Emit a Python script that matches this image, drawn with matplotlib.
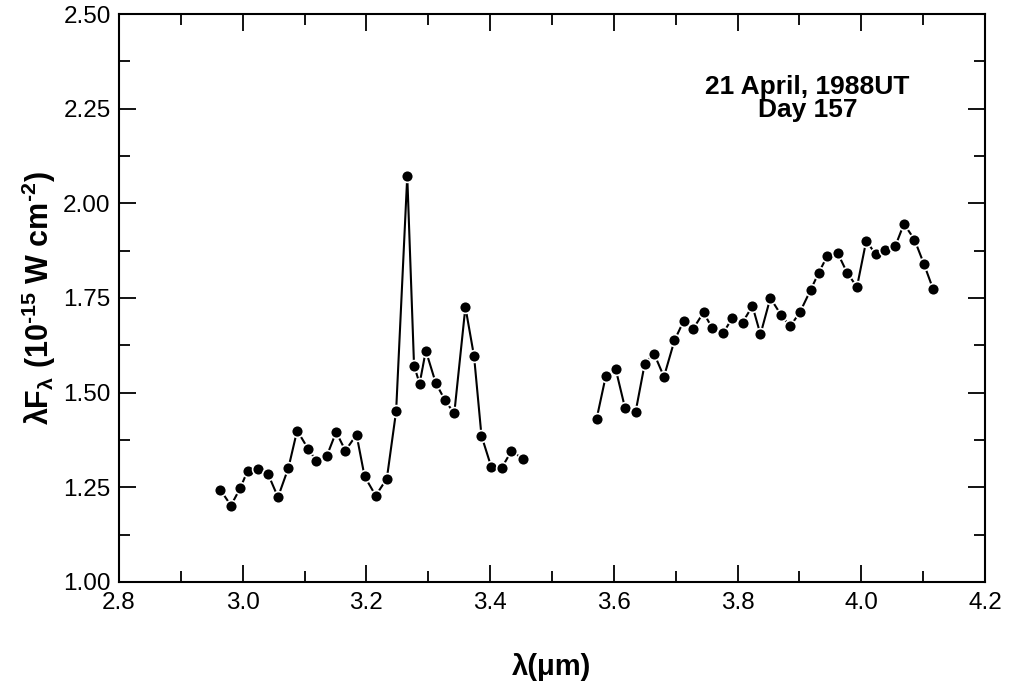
import matplotlib
matplotlib.use("Agg")
import matplotlib.pyplot as plt
from matplotlib.ticker import MultipleLocator, FormatStrFormatter

plt.rcParams['font.family'] = ['Liberation Sans', 'DejaVu Sans']
plt.rcParams['mathtext.fontset'] = 'custom'
plt.rcParams['mathtext.rm'] = 'Liberation Sans'
plt.rcParams['mathtext.it'] = 'Liberation Sans'
plt.rcParams['mathtext.bf'] = 'Liberation Sans:bold'

# Segment 1 (short wavelength)
wl_1 = [2.964, 2.981, 2.996, 3.008, 3.025, 3.041, 3.057, 3.074, 3.088, 3.106,
        3.119, 3.136, 3.151, 3.166, 3.184, 3.197, 3.215, 3.233, 3.248, 3.266,
        3.277, 3.286, 3.296, 3.312, 3.327, 3.342, 3.360, 3.374, 3.386, 3.402,
        3.419, 3.434, 3.453]
flux_1 = [1.243, 1.202, 1.248, 1.294, 1.298, 1.285, 1.224, 1.302, 1.400, 1.351,
          1.320, 1.333, 1.396, 1.347, 1.389, 1.279, 1.228, 1.273, 1.451, 2.072,
          1.571, 1.524, 1.611, 1.526, 1.480, 1.445, 1.726, 1.596, 1.386, 1.303,
          1.302, 1.345, 1.326]

# Segment 2 (long wavelength)
wl_2 = [3.572, 3.587, 3.603, 3.618, 3.635, 3.650, 3.665, 3.681, 3.698, 3.713,
        3.728, 3.745, 3.759, 3.777, 3.791, 3.808, 3.824, 3.837, 3.853, 3.870,
        3.885, 3.901, 3.918, 3.931, 3.945, 3.962, 3.977, 3.993, 4.008, 4.023,
        4.039, 4.055, 4.069, 4.086, 4.101, 4.116]
flux_2 = [1.430, 1.544, 1.562, 1.460, 1.448, 1.577, 1.603, 1.542, 1.638, 1.690,
          1.668, 1.712, 1.670, 1.658, 1.696, 1.685, 1.729, 1.654, 1.750, 1.706,
          1.675, 1.713, 1.771, 1.816, 1.861, 1.868, 1.817, 1.779, 1.901, 1.866,
          1.877, 1.887, 1.946, 1.904, 1.841, 1.774]

x_ticks = [2.8, 3.0, 3.2, 3.4, 3.6, 3.8, 4.0, 4.2]
y_ticks = [1.00, 1.25, 1.50, 1.75, 2.00, 2.25, 2.50]

fig = plt.figure(figsize=(10.09, 6.93), dpi=100)
ax = fig.add_axes([119/1009, 1 - 582/693, (985-119)/1009, (582-14)/693])

for wl, fl in [(wl_1, flux_1), (wl_2, flux_2)]:
    ax.plot(wl, fl, color='black', lw=1.5, marker='o', ms=8.5,
            mfc='black', mec='white', mew=1.2, solid_capstyle='butt')

ax.set_xlim(2.8, 4.2)
ax.set_ylim(1.0, 2.5)
ax.set_xticks(x_ticks)
ax.set_yticks(y_ticks)
ax.xaxis.set_minor_locator(MultipleLocator(0.1))
ax.yaxis.set_minor_locator(MultipleLocator(0.125))
ax.xaxis.set_major_formatter(FormatStrFormatter('%.1f'))
ax.yaxis.set_major_formatter(FormatStrFormatter('%.2f'))
ax.tick_params(which='both', direction='in', top=True, right=True,
               labelsize=17.5, width=1.3, colors='black')
ax.tick_params(which='major', length=12)
ax.tick_params(axis='x', which='major', pad=7)
ax.tick_params(axis='y', which='major', pad=6)
ax.tick_params(which='minor', length=8)
for s in ax.spines.values():
    s.set_linewidth(1.5)

ax.set_xlabel('λ(μm)', fontsize=21, fontweight='bold', labelpad=28)
ax.set_ylabel(r'λF$_{\mathbf{λ}}$ (10$^{\mathbf{‑15}}$ W cm$^{\mathbf{‑2}}$)',
              fontsize=22, fontweight='bold', labelpad=4)

ax.text(0.795, 0.852, '21 April, 1988UT\nDay 157', transform=ax.transAxes,
        ha='center', va='center', fontsize=19, fontweight='bold',
        linespacing=0.95)

fig.savefig('out.png', dpi=100)
